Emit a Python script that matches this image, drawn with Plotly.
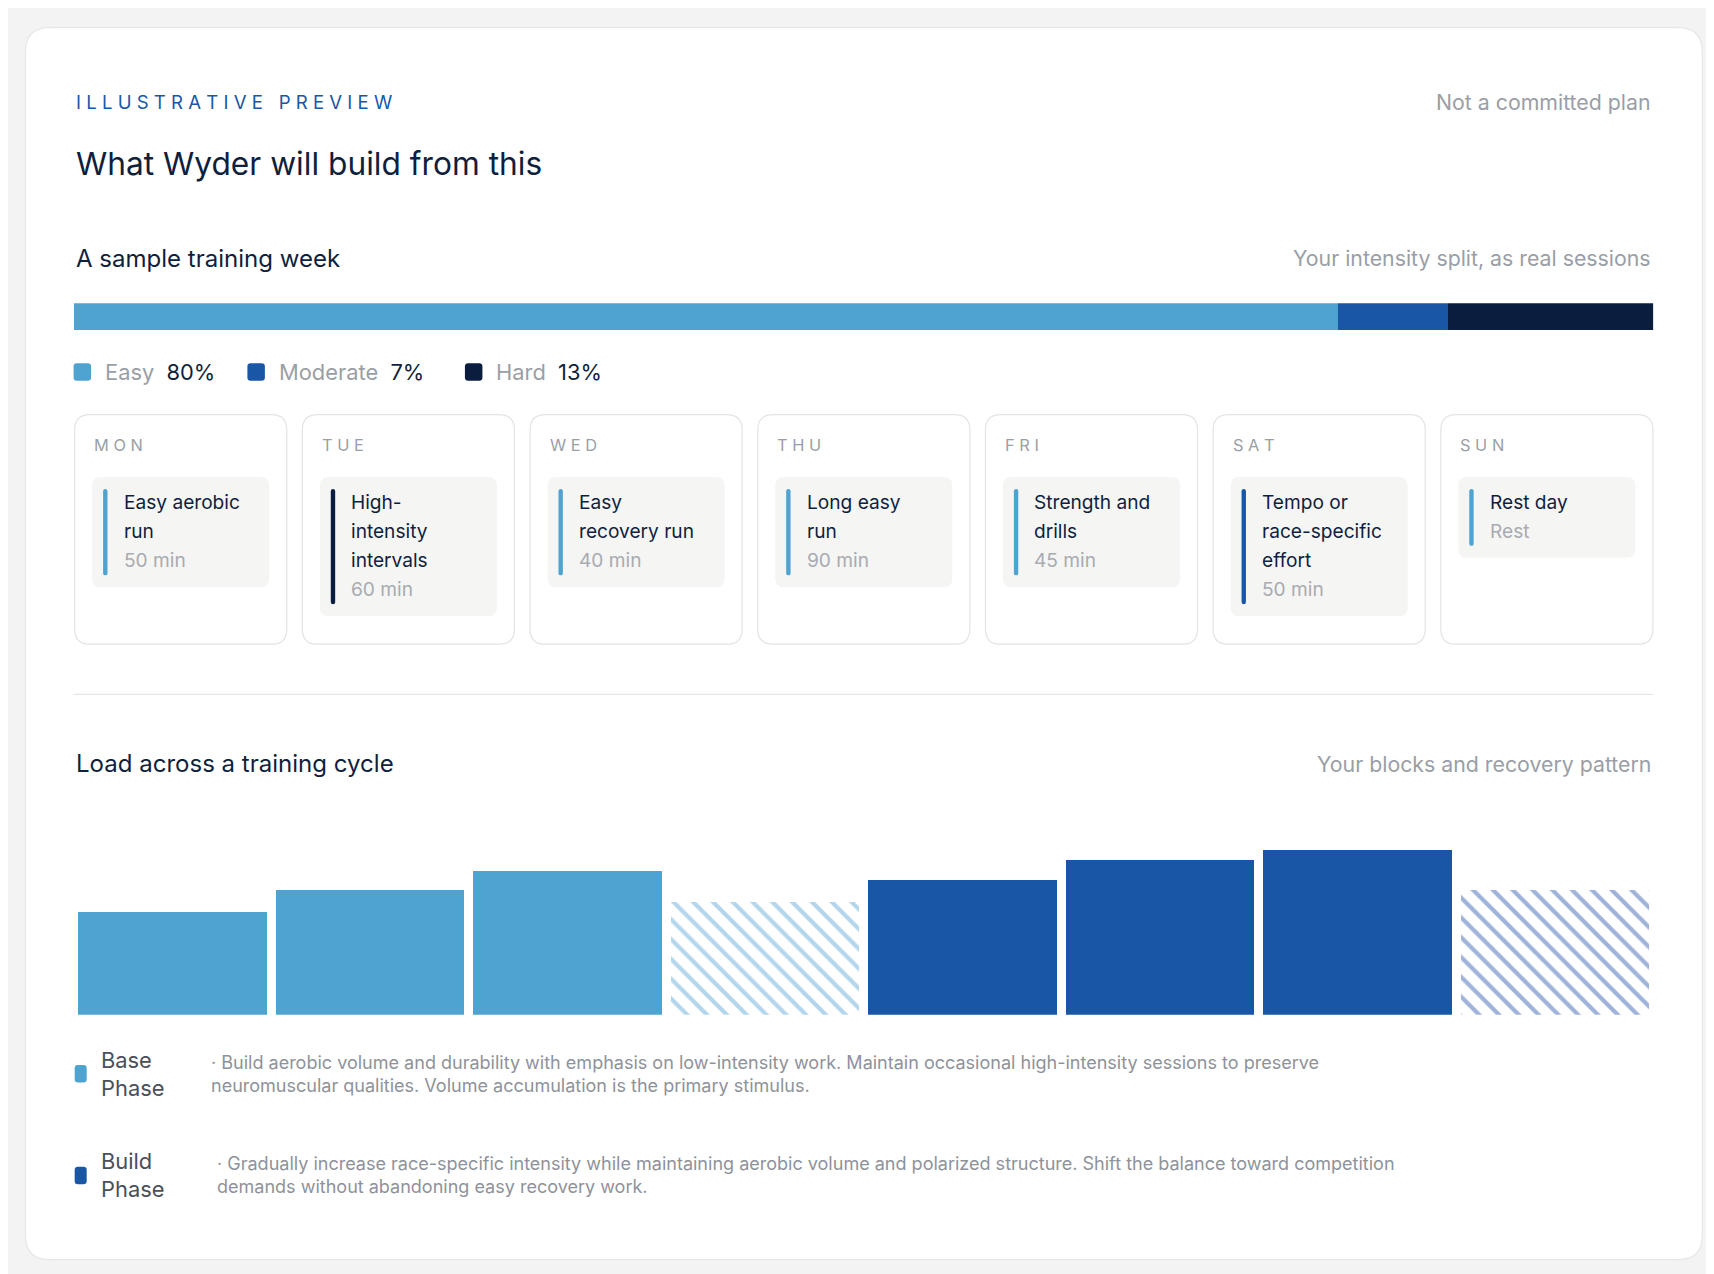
import plotly.graph_objects as go

W, H = 1714, 1274
S = W / 1568.0

# data
split_names = ["Easy", "Moderate", "Hard"]
split_pct = [80, 7, 13]
split_colors = ["#4fa3d1", "#1a56a6", "#0b1d3f"]

days = ["MON", "TUE", "WED", "THU", "FRI", "SAT", "SUN"]
sessions = [["Easy aerobic", "run"], ["High-", "intensity", "intervals"], ["Easy", "recovery run"],
            ["Long easy", "run"], ["Strength and", "drills"], ["Tempo or", "race-specific", "effort"],
            ["Rest day"]]
durations = ["50 min", "60 min", "40 min", "90 min", "45 min", "50 min", "Rest"]
session_kind = ["Easy", "Hard", "Easy", "Easy", "Easy", "Moderate", "Easy"]

weeks = ["W1", "W2", "W3", "W4", "W5", "W6", "W7", "W8"]
load = [94, 114, 132, 103, 123, 142, 151, 114]
phase = ["Base", "Base", "Base", "Base", "Build", "Build", "Build", "Build"]
deload = [False, False, False, True, False, False, False, True]

FONT = "Inter"
INK = "#0f1f3d"
GREY = "#9a9ea6"


def px(x):
    return x * S / W


def py(y):
    return 1 - y * S / H


fig = go.Figure()
shapes = []
ann = []


def text(x, y, t, size, color=INK, anchor="left", **kw):
    ann.append(dict(x=px(x), y=py(y), xref="paper", yref="paper", text=t, showarrow=False,
                    xanchor=anchor, yanchor="middle", font=dict(family=FONT, size=size * S, color=color), **kw))


def rect(x0, y0, x1, y1, fill, line=None, r=0):
    # rounded rectangle as a path in paper coordinates
    a, b = px(x0), px(x1)
    c, d = py(y1), py(y0)
    rx, ry = r * S / W, r * S / H
    path = (f"M{a+rx},{c} L{b-rx},{c} Q{b},{c} {b},{c+ry} L{b},{d-ry} Q{b},{d} {b-rx},{d} "
            f"L{a+rx},{d} Q{a},{d} {a},{d-ry} L{a},{c+ry} Q{a},{c} {a+rx},{c} Z")
    shapes.append(dict(type="path", xref="paper", yref="paper", path=path, fillcolor=fill,
                       line=dict(color=line or fill, width=1.2 if line else 0), layer="below"))


# outer card
rect(16, 18, 1550, 1145, "white", "#e6e6e6", r=22)

text(60, 86, "I L L U S T R A T I V E   P R E V I E W", 17, "#1a56a6")
text(1505, 86, "Not a committed plan", 19.5, GREY, "right")
text(60, 142, "What Wyder will build from this", 29, INK)
text(60, 229, "A sample training week", 22, INK)
text(1505, 229, "Your intensity split, as real sessions", 19.5, GREY, "right")

# intensity split bar
for n, v, c in zip(split_names, split_pct, split_colors):
    fig.add_trace(go.Bar(x=[v], y=[""], orientation="h", marker=dict(color=c, line_width=0),
                         xaxis="x", yaxis="y", showlegend=False, hoverinfo="skip"))
lx = 60
for n, v, c in zip(split_names, split_pct, split_colors):
    rect(lx, 325, lx + 16, 341, c, r=3)
    text(lx + 27, 333, f"<span style='color:{GREY}'>{n}</span>  {v}%", 20, INK)
    lx += 159 if n == "Easy" else 199

kind_color = dict(zip(split_names, ["#4fa3d1", "#1a56a6", "#0b1d3f"]))
# day cards
for i, d in enumerate(days):
    x0 = 61 + i * 208.3
    rect(x0, 372, x0 + 194, 582, "white", "#e4e4e4", r=14)
    text(x0 + 16, 400, " ".join(d), 15, GREY)
    nl = len(sessions[i])
    bh = 48 + nl * 26.5 if d != "SUN" else 74
    rect(x0 + 16, 429, x0 + 178, 429 + bh, "#f5f5f4", r=8)
    rect(x0 + 26, 440, x0 + 30, 429 + bh - 11, kind_color[session_kind[i]], r=2)
    for j, line in enumerate(sessions[i]):
        text(x0 + 43, 452 + j * 26.5, line, 17.5, INK)
    text(x0 + 43, 452 + nl * 26.5, durations[i], 17.5, "#a8abb1")

shapes.append(dict(type="line", xref="paper", yref="paper", x0=px(60), x1=px(1505), y0=py(628), y1=py(628),
                   line=dict(color="#e6e6e6", width=1.2)))
text(60, 691, "Load across a training cycle", 22, INK)
text(1505, 692, "Your blocks and recovery pattern", 19.5, GREY, "right")

# cycle bars
cols, pat = [], []
for p, dl in zip(phase, deload):
    if p == "Base":
        cols.append("#b3d6ec" if dl else "#4fa3d1")
    else:
        cols.append("#9fb3da" if dl else "#1a56a6")
    pat.append("\\" if dl else "")
fig.add_trace(go.Bar(x=weeks, y=load, xaxis="x2", yaxis="y2", showlegend=False, hoverinfo="skip",
                     marker=dict(color=cols, line_width=0,
                                 pattern=dict(shape=pat, fgcolor=["#ffffff"] * 8, bgcolor=cols,
                                              fillmode="replace", size=14, solidity=0.3)),
                     width=0.955))

legend_rows = [("Base", "#4fa3d1", 975,
                "· Build aerobic volume and durability with emphasis on low-intensity work. Maintain occasional high-intensity sessions to preserve<br>neuromuscular qualities. Volume accumulation is the primary stimulus.", 184),
               ("Build", "#1a56a6", 1068,
                "· Gradually increase race-specific intensity while maintaining aerobic volume and polarized structure. Shift the balance toward competition<br>demands without abandoning easy recovery work.", 189)]
for name, c, yc, desc, dx in legend_rows:
    rect(61, yc - 8, 72, yc + 8, c, r=3)
    text(83, yc, f"{name}<br>Phase", 20, "#4a4f5a", align="left")
    text(dx, yc, desc, 16.5, "#8e929a", align="left")

fig.update_layout(
    width=W, height=H, margin=dict(l=0, r=0, t=0, b=0),
    paper_bgcolor="#f3f3f3", plot_bgcolor="rgba(0,0,0,0)",
    barmode="stack", bargap=0.0,
    xaxis=dict(domain=[px(60), px(1505)], range=[0, 100], visible=False, fixedrange=True),
    yaxis=dict(domain=[py(295), py(270)], visible=False),
    xaxis2=dict(domain=[px(60), px(1505)], visible=False, range=[-0.5, 7.5]),
    yaxis2=dict(domain=[py(921), py(740)], range=[0, 181], visible=False),
    shapes=shapes, annotations=ann,
)
fig.write_html("out.html")
